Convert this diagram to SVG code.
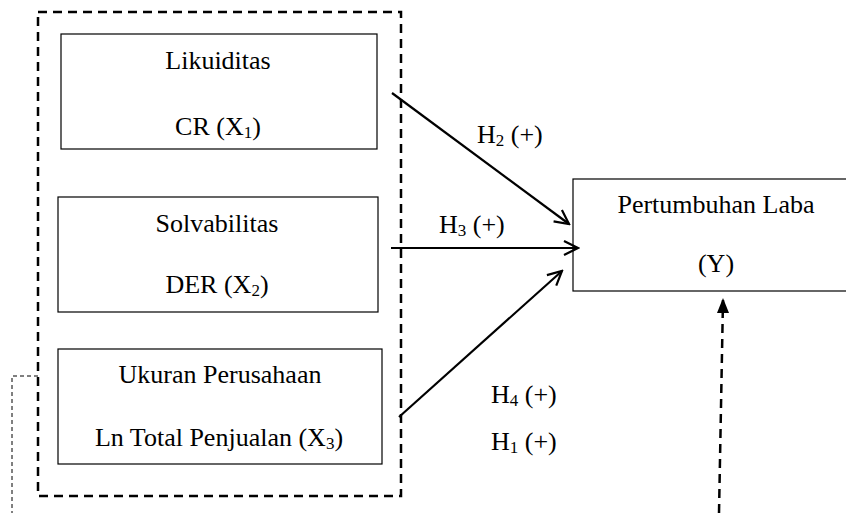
<svg xmlns="http://www.w3.org/2000/svg" width="846" height="513" viewBox="0 0 846 513">
<style>
text, tspan{font-family:"Liberation Serif", "Times New Roman", serif !important}
text{font-size:26px;fill:#000;text-anchor:middle}
.sub{font-size:17px}
.box{fill:#fff;stroke:#000;stroke-width:1.2}
.frame{fill:none;stroke:#000;stroke-width:2.5;stroke-dasharray:9 6}
.arrow{fill:none;stroke:#000;stroke-width:2.2}
.lbl{text-anchor:start}
</style>
<defs>
<marker id="open" viewBox="0 0 20 20" refX="18" refY="10" markerWidth="20" markerHeight="20" markerUnits="userSpaceOnUse" orient="auto">
<path d="M4,3 L18,10 L4,17" fill="none" stroke="#000" stroke-width="2.2"/>
</marker>
</defs>
<g id="frame"><rect class="frame" x="38" y="12" width="363" height="484"/></g>
<g id="likuiditas">
<rect class="box" x="61" y="34" width="316" height="115"/>
<text x="218" y="69" style="font-family:'Liberation Serif',serif">Likuiditas</text>
<text x="218" y="135" style="font-family:'Liberation Serif',serif">CR (X<tspan class="sub" dy="3">1</tspan><tspan dy="-3">)</tspan></text>
</g>
<g id="solvabilitas">
<rect class="box" x="58" y="197" width="320" height="115"/>
<text x="217" y="232" style="font-family:'Liberation Serif',serif">Solvabilitas</text>
<text x="217" y="293" style="font-family:'Liberation Serif',serif">DER (X<tspan class="sub" dy="3">2</tspan><tspan dy="-3">)</tspan></text>
</g>
<g id="ukuran">
<rect class="box" x="58" y="349" width="324" height="115"/>
<text x="220" y="383" style="font-family:'Liberation Serif',serif">Ukuran Perusahaan</text>
<text x="219" y="446" style="font-family:'Liberation Serif',serif">Ln Total Penjualan (X<tspan class="sub" dy="3">3</tspan><tspan dy="-3">)</tspan></text>
</g>
<g id="laba">
<rect class="box" x="573" y="179" width="280" height="112"/>
<text x="716" y="213" style="font-family:'Liberation Serif',serif">Pertumbuhan Laba</text>
<text x="716" y="272" style="font-family:'Liberation Serif',serif">(Y)</text>
</g>
<g id="connectors">
<line class="arrow" x1="392" y1="93" x2="569" y2="224" marker-end="url(#open)"/>
<line class="arrow" x1="391" y1="248" x2="578" y2="248" marker-end="url(#open)"/>
<line class="arrow" x1="399" y1="417" x2="562" y2="271" marker-end="url(#open)"/>
<line x1="719" y1="513" x2="723" y2="300" stroke="#000" stroke-width="2.5" stroke-dasharray="9 6"/>
<path d="M723,298 L729,313 L717,313 Z" fill="#000"/>
<polyline points="38,376 12,376 12,513" fill="none" stroke="#000" stroke-width="1" stroke-dasharray="4 3"/>
</g>
<g id="labels">
<text class="lbl" x="477" y="143" style="font-family:'Liberation Serif',serif">H<tspan class="sub" dy="3">2</tspan><tspan dy="-3"> (+)</tspan></text>
<text class="lbl" x="439" y="233" style="font-family:'Liberation Serif',serif">H<tspan class="sub" dy="3">3</tspan><tspan dy="-3"> (+)</tspan></text>
<text class="lbl" x="491" y="403" style="font-family:'Liberation Serif',serif">H<tspan class="sub" dy="3">4</tspan><tspan dy="-3"> (+)</tspan></text>
<text class="lbl" x="491" y="450" style="font-family:'Liberation Serif',serif">H<tspan class="sub" dy="3">1</tspan><tspan dy="-3"> (+)</tspan></text>
</g>
</svg>
